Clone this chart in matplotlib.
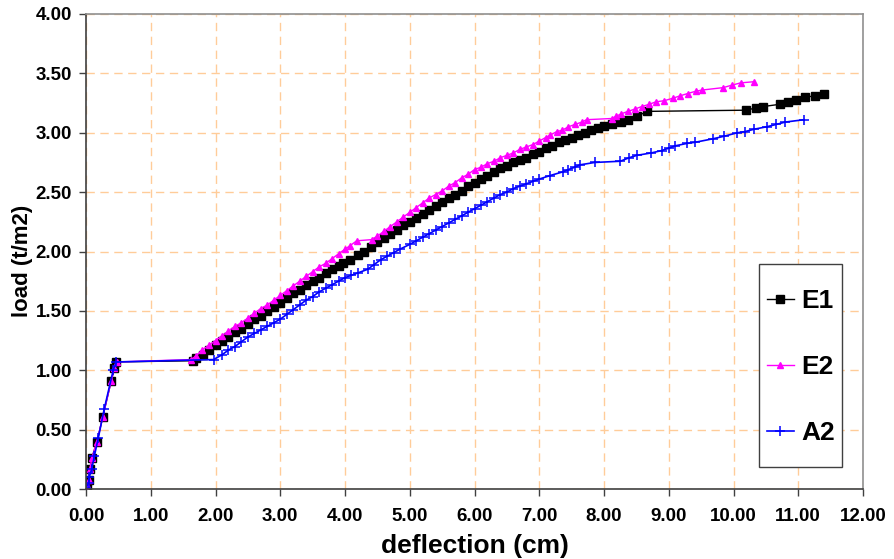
import matplotlib
matplotlib.use("Agg")
import matplotlib.pyplot as plt
from matplotlib.patches import Rectangle

plt.rcParams['font.family'] = ['Liberation Sans', 'DejaVu Sans']
plt.rcParams['font.weight'] = 'bold'

# load-deflection readings for the three specimens
e1_x = [0.00, 0.02, 0.04, 0.06, 0.09, 0.17, 0.26, 0.39, 0.44, 0.47, 1.66,
        1.70, 1.80, 1.90, 2.00, 2.10, 2.20, 2.30, 2.40, 2.50, 2.60, 2.70, 2.80,
        2.90, 3.00, 3.10, 3.20, 3.30, 3.40, 3.50, 3.60, 3.70, 3.80, 3.90, 3.97,
        4.07, 4.20, 4.30, 4.40, 4.50, 4.60, 4.70, 4.80, 4.90, 5.00, 5.10, 5.20,
        5.30, 5.40, 5.50, 5.60, 5.70, 5.80, 5.90, 6.00, 6.10, 6.20, 6.30, 6.40,
        6.50, 6.60, 6.70, 6.80, 6.90, 7.00, 7.10, 7.20, 7.30, 7.40, 7.50, 7.60,
        7.70, 7.80, 7.90, 8.00, 8.12, 8.27, 8.37, 8.51, 8.67, 10.20, 10.35,
        10.45, 10.72, 10.84, 10.97, 11.10, 11.26, 11.39]
e1_y = [0.00, 0.03, 0.08, 0.17, 0.26, 0.40, 0.61, 0.91, 1.02, 1.07, 1.08,
        1.10, 1.13, 1.17, 1.21, 1.25, 1.28, 1.32, 1.35, 1.39, 1.43, 1.46, 1.50,
        1.53, 1.57, 1.61, 1.65, 1.68, 1.72, 1.75, 1.78, 1.82, 1.85, 1.88, 1.90,
        1.93, 1.97, 2.00, 2.04, 2.08, 2.11, 2.15, 2.18, 2.22, 2.25, 2.28, 2.32,
        2.35, 2.38, 2.42, 2.45, 2.48, 2.51, 2.55, 2.58, 2.61, 2.64, 2.67, 2.70,
        2.72, 2.75, 2.77, 2.79, 2.82, 2.84, 2.87, 2.89, 2.92, 2.94, 2.96, 2.98,
        3.00, 3.02, 3.04, 3.06, 3.07, 3.09, 3.11, 3.14, 3.18, 3.19, 3.21,
        3.22, 3.24, 3.26, 3.28, 3.30, 3.31, 3.33]

e2_x = [0.00, 0.02, 0.04, 0.06, 0.09, 0.17, 0.26, 0.39, 0.44, 0.48, 1.62,
        1.70, 1.79, 1.90, 2.00, 2.10, 2.20, 2.30, 2.40, 2.50, 2.60, 2.70, 2.80,
        2.90, 3.00, 3.10, 3.20, 3.30, 3.40, 3.50, 3.60, 3.70, 3.80, 3.90, 4.00,
        4.08, 4.18, 4.41, 4.50, 4.60, 4.70, 4.80, 4.90, 5.00, 5.10, 5.20, 5.30,
        5.40, 5.50, 5.60, 5.70, 5.80, 5.90, 6.00, 6.10, 6.20, 6.30, 6.40, 6.50,
        6.60, 6.70, 6.80, 6.90, 7.00, 7.10, 7.17, 7.27, 7.35, 7.45, 7.55, 7.66,
        7.73, 8.12, 8.19, 8.27, 8.37, 8.48, 8.58, 8.70, 8.80, 8.93, 9.06, 9.17,
        9.29, 9.42, 9.52, 9.84, 9.97, 10.11, 10.32]
e2_y = [0.00, 0.03, 0.08, 0.17, 0.26, 0.40, 0.61, 0.91, 1.02, 1.07, 1.09,
        1.12, 1.17, 1.21, 1.25, 1.29, 1.33, 1.37, 1.40, 1.44, 1.48, 1.52, 1.55,
        1.59, 1.63, 1.67, 1.71, 1.75, 1.79, 1.83, 1.87, 1.90, 1.94, 1.98, 2.02,
        2.05, 2.09, 2.10, 2.13, 2.17, 2.21, 2.25, 2.29, 2.33, 2.37, 2.41, 2.45,
        2.48, 2.51, 2.55, 2.58, 2.62, 2.65, 2.69, 2.71, 2.74, 2.76, 2.79, 2.81,
        2.83, 2.86, 2.88, 2.90, 2.93, 2.96, 2.98, 3.01, 3.02, 3.05, 3.07, 3.09,
        3.11, 3.12, 3.14, 3.16, 3.18, 3.20, 3.22, 3.24, 3.26, 3.27, 3.29, 3.31,
        3.33, 3.35, 3.36, 3.38, 3.40, 3.42, 3.43]

a2_x = [0.00, 0.04, 0.05, 0.09, 0.13, 0.19, 0.28, 0.42, 0.47, 1.97,
        2.10, 2.20, 2.30, 2.40, 2.50, 2.60, 2.70, 2.80, 2.90, 3.00, 3.10, 3.20,
        3.30, 3.40, 3.50, 3.60, 3.70, 3.80, 3.90, 4.00, 4.10, 4.20, 4.35, 4.45,
        4.55, 4.65, 4.75, 4.85, 5.00, 5.10, 5.20, 5.30, 5.40, 5.50, 5.60, 5.70,
        5.80, 5.90, 6.00, 6.10, 6.20, 6.30, 6.40, 6.50, 6.60, 6.70, 6.80, 6.90,
        7.00, 7.17, 7.36, 7.45, 7.55, 7.63, 7.86, 8.25, 8.39, 8.51, 8.73, 8.89,
        9.00, 9.10, 9.28, 9.41, 9.69, 9.85, 10.06, 10.18, 10.32, 10.51, 10.66,
        10.80, 11.09]
a2_y = [0.01, 0.05, 0.10, 0.17, 0.28, 0.43, 0.67, 1.00, 1.07, 1.09,
        1.13, 1.17, 1.20, 1.24, 1.28, 1.31, 1.34, 1.37, 1.40, 1.43, 1.47, 1.51,
        1.55, 1.59, 1.62, 1.66, 1.69, 1.72, 1.75, 1.78, 1.80, 1.82, 1.85, 1.89,
        1.93, 1.96, 1.99, 2.02, 2.06, 2.09, 2.12, 2.15, 2.18, 2.21, 2.24, 2.27,
        2.30, 2.33, 2.36, 2.39, 2.42, 2.45, 2.48, 2.50, 2.53, 2.55, 2.57, 2.59,
        2.61, 2.64, 2.67, 2.69, 2.71, 2.73, 2.75, 2.76, 2.79, 2.81, 2.83, 2.85,
        2.87, 2.89, 2.91, 2.92, 2.95, 2.97, 3.00, 3.01, 3.03, 3.05, 3.07,
        3.09, 3.11]

x_ticks = [i * 1.0 for i in range(13)]
y_ticks = [i * 0.5 for i in range(9)]

fig = plt.figure(figsize=(8.94, 5.59), dpi=100)
ax = fig.add_axes([86 / 894, 1 - 489 / 559, 777 / 894, 475 / 559])

ax.plot(e1_x, e1_y, color='black', lw=1, marker='s', ms=5.2, label='E1')
ax.plot(e2_x, e2_y, color='#FF00FF', lw=1, marker='^', ms=5, label='E2')
ax.plot(a2_x, a2_y, color='#0000FF', lw=1.2, marker='+', ms=6.5, mew=1.1, label='A2')

ax.set_xlim(0, 12)
ax.set_ylim(0, 4)
ax.set_xticks(x_ticks)
ax.set_yticks(y_ticks)
ax.set_xticklabels([f"{v:.2f}" for v in x_ticks])
ax.set_yticklabels([f"{v:.2f}" for v in y_ticks])
ax.tick_params(axis='both', direction='out', length=5, width=1, labelsize=13.5,
               color='#404040')
ax.tick_params(axis='x', pad=9)
ax.tick_params(axis='y', pad=5)

ax.grid(True, color='#FFCC99', linestyle=(0, (6, 4)), lw=1)
ax.set_axisbelow(True)
for side in ['left', 'bottom']:
    ax.spines[side].set_color('#404040')
    ax.spines[side].set_linewidth(1.2)
for side in ['top', 'right']:
    ax.spines[side].set_color('#909090')
    ax.spines[side].set_linewidth(1.2)

ax.set_xlabel('deflection (cm)', fontsize=19, fontweight='bold')
ax.set_ylabel('load (t/m2)', fontsize=16, fontweight='bold')
ax.xaxis.set_label_coords(0.501, -0.094)
ax.yaxis.set_label_coords(-0.068, 0.48)

# legend box drawn separately so it can be tall and narrow
ax.add_patch(Rectangle((759 / 894, 1 - 467 / 559), 83 / 894, 203 / 559,
                       transform=fig.transFigure, facecolor='white',
                       edgecolor='#404040', lw=1, zorder=5, clip_on=False))
leg = ax.legend(loc='center', bbox_to_anchor=(801 / 894, 1 - 367 / 559),
                bbox_transform=fig.transFigure, fontsize=19, labelspacing=1.6,
                handlelength=1.05, handletextpad=0.28, borderpad=0.2,
                frameon=False)
leg.set_zorder(6)

fig.savefig('out.png', dpi=100)
